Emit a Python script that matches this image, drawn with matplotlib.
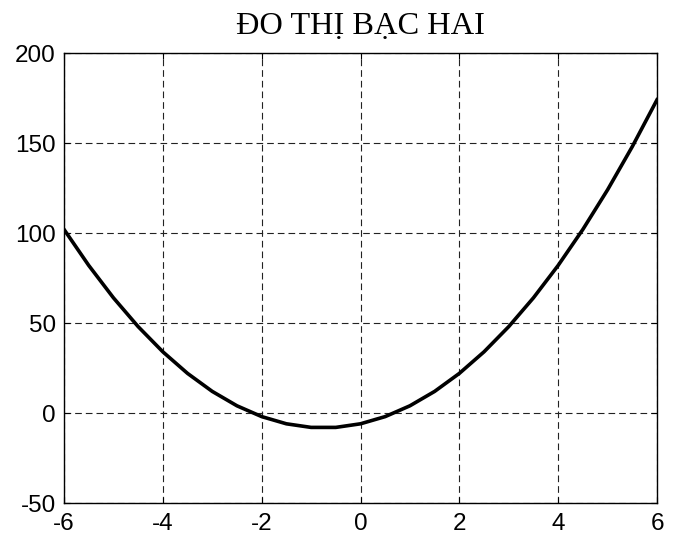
import matplotlib
matplotlib.use("Agg")
import matplotlib.pyplot as plt

x_vals = [-6, -5.5, -5, -4.5, -4, -3.5, -3, -2.5, -2, -1.5, -1, -0.5, 0,
          0.5, 1, 1.5, 2, 2.5, 3, 3.5, 4, 4.5, 5, 5.5, 6]
y_vals = [102, 82, 64, 48, 34, 22, 12, 4, -2, -6, -8, -8, -6,
          -2, 4, 12, 22, 34, 48, 64, 82, 102, 124, 148, 174]
x_ticks = [-6, -4, -2, 0, 2, 4, 6]
y_ticks = [-50, 0, 50, 100, 150, 200]
title = "ĐO THỊ BẠC HAI"

fig = plt.figure(figsize=(6.73, 5.35), dpi=100)
ax = fig.add_axes([64/673, 1-503/535, (657-64)/673, (503-53)/535])
ax.plot(x_vals, y_vals, color="black", linewidth=2.6)
ax.set_xlim(-6, 6)
ax.set_ylim(-50, 200)
ax.set_xticks(x_ticks)
ax.set_yticks(y_ticks)
ax.set_xticklabels([str(v) for v in x_ticks], fontsize=17.5, family="Liberation Sans")
ax.set_yticklabels([str(v) for v in y_ticks], fontsize=17.5, family="Liberation Sans")
ax.tick_params(direction="in", length=4, width=0.8, top=True, right=True, pad=7)
ax.tick_params(axis="y", pad=6)
ax.grid(True, color="#222222", linestyle=(0, (6, 3.6)), linewidth=0.8)
for s in ax.spines.values():
    s.set_linewidth(1.0)
ax.set_title(title, fontsize=23.3, family="Liberation Serif", pad=14)
fig.savefig("out.png", dpi=100)
